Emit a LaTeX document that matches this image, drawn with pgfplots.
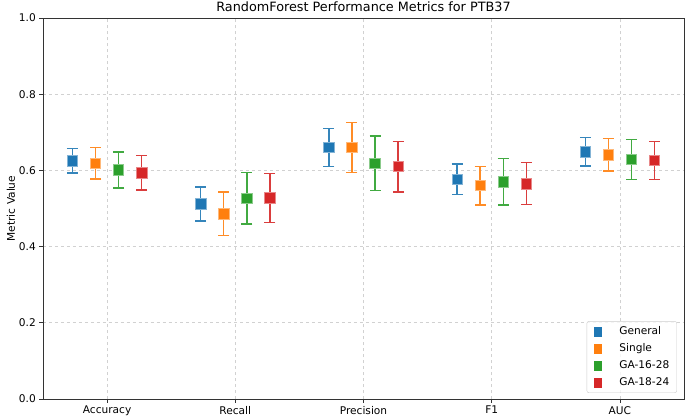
\documentclass[border=0pt]{standalone}
\usepackage{pgfplots}
\pgfplotsset{compat=1.18}
\usepackage{fontspec}
\setmainfont{DejaVu Sans}
\definecolor{cG}{HTML}{1F77B4}
\definecolor{cS}{HTML}{FF7F0E}
\definecolor{cA}{HTML}{2CA02C}
\definecolor{cB}{HTML}{D62728}
\newcommand{\tickfont}{\fontsize{10.6bp}{12.7bp}\selectfont}
\pgfplotsset{
  ser/.style={
    only marks, mark=square*, mark size=5.2bp,
    color=#1, mark options={fill=#1, draw=#1!55!white, line width=0.7bp},
    legend image code/.code={
      \fill[#1, draw=none, sharp corners, fill opacity=1] (1bp,-5bp) rectangle (9bp,5bp);
      \path[draw=none, fill=none] (0bp,0bp) -- (25bp,0bp);
    },
    error bars/.cd, y dir=both, y explicit,
    error bar style={line width=1.4bp, #1!90!white},
    error mark options={rotate=90, line width=1.4bp, mark size=5.5bp, #1!90!white},
  },
}
\begin{document}
\begin{tikzpicture}
\begin{axis}[
  scale only axis,
  width=641bp, height=381bp,
  xmin=-0.5, xmax=4.5, ymin=0, ymax=1,
  xtick={0,1,2,3,4},
  xticklabels={Accuracy,Recall,Precision,F1,AUC},
  ytick={0,0.2,0.4,0.6,0.8,1.0},
  yticklabel style={/pgf/number format/.cd, fixed, fixed zerofill, precision=1, assume math mode=true},
  ticklabel style={font=\tickfont},
  tick align=outside, tick pos=left,
  major tick length=3.7bp,
  tick style={black!80, line width=0.8bp},
  axis line style={black!80, line width=0.8bp},
  grid=major,
  major grid style={dashed, black!18, line width=0.8bp},
  ylabel={Metric Value},
  ylabel style={font=\tickfont, yshift=-3bp},
  title={RandomForest Performance Metrics for PTB37},
  title style={font=\fontsize{12.8bp}{15bp}\selectfont, yshift=-3bp},
  legend style={at={(0.989,0.016)}, anchor=south east, draw=black!20, rounded corners=2bp,
    fill=white, fill opacity=0.8, text opacity=1, font=\tickfont,
    row sep=4.5bp, inner xsep=6bp, inner ysep=4bp,
    nodes={inner sep=1.5bp}},
  legend cell align=left,
  clip=false,
]
\addplot+[ser=cG] coordinates {
  (-0.27,0.625) +- (0,0.032)
  (0.73,0.512) +- (0,0.0445)
  (1.73,0.660) +- (0,0.0495)
  (2.73,0.577) +- (0,0.040)
  (3.73,0.649) +- (0,0.0375)
};
\addlegendentry{General}
\addplot+[ser=cS] coordinates {
  (-0.09,0.619) +- (0,0.0415)
  (0.91,0.486) +- (0,0.0575)
  (1.91,0.660) +- (0,0.065)
  (2.91,0.560) +- (0,0.051)
  (3.91,0.641) +- (0,0.043)
};
\addlegendentry{Single}
\addplot+[ser=cA] coordinates {
  (0.09,0.601) +- (0,0.0475)
  (1.09,0.527) +- (0,0.068)
  (2.09,0.619) +- (0,0.071)
  (3.09,0.570) +- (0,0.061)
  (4.09,0.629) +- (0,0.0525)
};
\addlegendentry{GA-16-28}
\addplot+[ser=cB] coordinates {
  (0.27,0.594) +- (0,0.0455)
  (1.27,0.528) +- (0,0.064)
  (2.27,0.610) +- (0,0.0665)
  (3.27,0.565) +- (0,0.055)
  (4.27,0.626) +- (0,0.050)
};
\addlegendentry{GA-18-24}
\coordinate (SW) at (rel axis cs:0,0);
\coordinate (NE) at (rel axis cs:1,1);
\end{axis}
\pgfresetboundingbox
\path[use as bounding box] ([xshift=-43bp,yshift=-21bp]SW) rectangle ([xshift=1bp,yshift=18bp]NE);
\end{tikzpicture}
\end{document}
